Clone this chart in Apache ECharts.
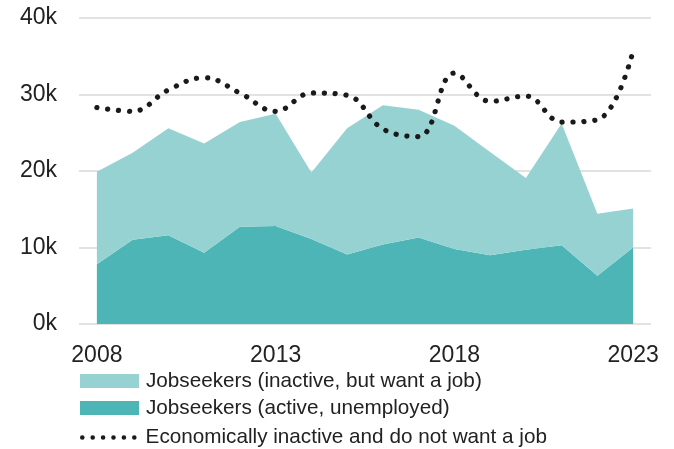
<!DOCTYPE html>
<html><head><meta charset="utf-8">
<script src="https://cdn.jsdelivr.net/npm/echarts@6/dist/echarts.min.js"></script>
<style>html,body{margin:0;padding:0;background:#fff}#c{width:674px;height:449px}</style>
</head><body><div id="c"></div>
<script>
const years = ['2008','2009','2010','2011','2012','2013','2014','2015','2016','2017','2018','2019','2020','2021','2022','2023'];
const active = [7.8, 11.0, 11.6, 9.3, 12.7, 12.8, 11.1, 9.1, 10.4, 11.3, 9.8, 9.0, 9.7, 10.3, 6.3, 10.0];
const inactiveWant = [12.1, 11.4, 14.0, 14.3, 13.7, 14.7, 8.7, 16.5, 18.2, 16.7, 16.1, 13.5, 9.4, 15.9, 8.1, 5.1];
const notWant = [28.3, 27.8, 30.6, 32.2, 30.2, 27.8, 30.2, 29.9, 25.5, 24.5, 32.8, 29.1, 29.8, 26.4, 26.7, 35.7];
const yTicks = [0, 10, 20, 30, 40];

const nameLight = 'Jobseekers (inactive, but want a job)';
const nameDark = 'Jobseekers (active, unemployed)';
const nameDot = 'Economically inactive and do not want a job';
const FONT = 'Liberation Sans, Arial, sans-serif';

// legend icon: six dots
let dotPath = 'path://';
const r = 2.3;
for (let i = 0; i < 6; i++) {
  const cx = r + i * 10.4;
  dotPath += 'M' + (cx - r) + ',' + r + 'a' + r + ',' + r + ' 0 1,0 ' + (2 * r) + ',0a' + r + ',' + r + ' 0 1,0 ' + (-2 * r) + ',0Z';
}

const legendBase = {
  orient: 'vertical', left: 80, padding: 0, itemGap: 0,
  textStyle: {fontFamily: FONT, fontSize: 20.7, color: '#222', lineHeight: 21}
};
const chart = echarts.init(document.getElementById('c'), null, {renderer: 'canvas'});
chart.setOption({
  animation: false,
  grid: {left: 79, right: 23, top: 18, bottom: 125},
  legend: [
    Object.assign({}, legendBase, {top: 370.5, itemWidth: 59, itemHeight: 14,
      textStyle: Object.assign({}, legendBase.textStyle, {padding: [0, 0, 0, 2]}),
      data: [{name: nameLight, icon: 'rect'}]}),
    Object.assign({}, legendBase, {top: 397.5, itemWidth: 59, itemHeight: 14,
      textStyle: Object.assign({}, legendBase.textStyle, {padding: [0, 0, 0, 2]}),
      data: [{name: nameDark, icon: 'rect'}]}),
    Object.assign({}, legendBase, {top: 424, itemWidth: 56.6, itemHeight: 4.6,
      textStyle: Object.assign({}, legendBase.textStyle, {padding: [0, 0, 6, 4]}),
      data: [{name: nameDot, icon: dotPath, itemStyle: {color: '#1a1a1a'}}]})
  ],
  xAxis: {
    type: 'category', data: years, boundaryGap: true,
    axisLine: {show: false}, axisTick: {show: false},
    axisLabel: {interval: 4, fontFamily: FONT, fontSize: 23, color: '#222', margin: 20}
  },
  yAxis: {
    type: 'value', min: yTicks[0], max: yTicks[yTicks.length - 1], interval: 10,
    axisLine: {show: false}, axisTick: {show: false},
    splitLine: {lineStyle: {color: '#d9d9d9', width: 1.5}},
    axisLabel: {formatter: v => v + 'k', fontFamily: FONT, fontSize: 23, color: '#222', margin: 22}
  },
  series: [
    {name: nameDark, type: 'line', stack: 'js', data: active, symbol: 'none',
     lineStyle: {width: 0}, itemStyle: {color: '#4db5b5'}, areaStyle: {color: '#4db5b5', opacity: 1}},
    {name: nameLight, type: 'line', stack: 'js', data: inactiveWant, symbol: 'none',
     lineStyle: {width: 0}, itemStyle: {color: '#97d2d2'}, areaStyle: {color: '#97d2d2', opacity: 1}},
    {name: nameDot, type: 'line', data: notWant, symbol: 'none', smooth: 0.4,
     itemStyle: {color: '#1a1a1a'},
     lineStyle: {color: '#1a1a1a', width: 5.2, type: [0.1, 10.8], cap: 'round'}}
  ]
});
</script></body></html>
